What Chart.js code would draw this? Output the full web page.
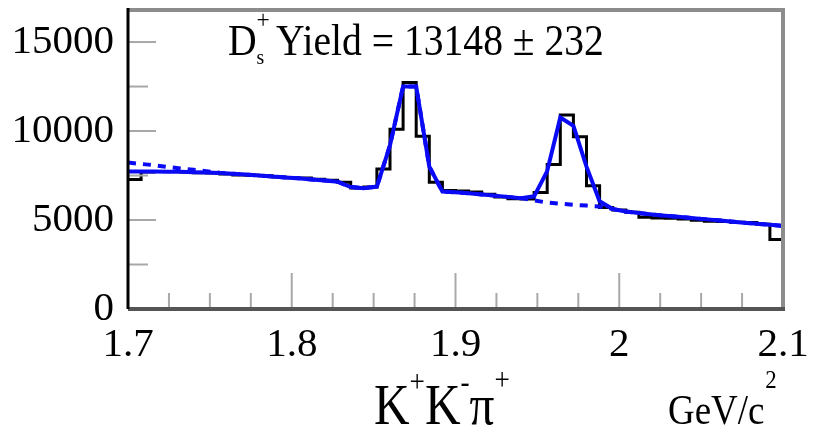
<!DOCTYPE html>
<html>
<head>
<meta charset="utf-8">
<script src="https://cdn.jsdelivr.net/npm/chart.js@4.4.1/dist/chart.umd.min.js"></script>
<style>
  html, body { margin: 0; padding: 0; background: #fff; }
  canvas { display: block; }
</style>
</head>
<body>
<canvas id="massChart" width="813" height="434"></canvas>
<script>
// ----------------------------
// K+K-pi+ invariant mass, Ds yield fit
// ----------------------------

// binning (GeV/c^2)
const massLow = 1.7;
const massHigh = 2.1;
const binWidth = 0.008;

// entries per bin (50 bins)
const counts = [
  7280, 7700, 7730, 7720, 7700, 7650, 7640, 7590, 7530, 7520,
  7480, 7420, 7370, 7360, 7290, 7240, 7120, 6800, 6850, 7860,
  10100, 12720, 9700, 7120, 6660, 6630, 6570, 6450, 6300, 6200,
  6180, 6550, 8120, 10900, 9680, 6930, 5700, 5560, 5430, 5160,
  5120, 5100, 5050, 4990, 4930, 4910, 4870, 4860, 4760, 3900
];

// total fit, evaluated at the bin edges (51 values)
const fitCurve = [
  7730, 7730, 7725, 7715, 7705, 7690, 7670, 7640, 7600, 7555,
  7505, 7450, 7395, 7340, 7280, 7220, 7150, 6850, 6790, 6880,
  9200, 12500, 12500, 8000, 6600, 6560, 6500, 6440, 6370, 6300,
  6230, 6330, 7750, 10760, 10300, 8000, 6050, 5620, 5480, 5390,
  5310, 5240, 5180, 5110, 5050, 4990, 4920, 4850, 4790, 4730,
  4670
];

// background (with the D+ peak), at the bin edges (51 values)
const bkgCurve = [
  8230, 8150, 8080, 7980, 7900, 7820, 7740, 7650, 7600, 7555,
  7505, 7450, 7395, 7340, 7280, 7220, 7150, 6850, 6790, 6880,
  9200, 12500, 12500, 8000, 6600, 6560, 6500, 6440, 6370, 6300,
  6230, 6100, 5980, 5920, 5860, 5810, 5760, 5620, 5480, 5390,
  5310, 5240, 5180, 5110, 5050, 4990, 4920, 4850, 4790, 4730,
  4670
];

// axes
const xTicks = [1.7, 1.8, 1.9, 2.0, 2.1];
const xTickLabels = ["1.7", "1.8", "1.9", "2", "2.1"];
const yTicks = [0, 5000, 10000, 15000];
const yTickLabels = ["0", "5000", "10000", "15000"];
const yMax = 16800;

const titleText = "Yield = 13148 \u00b1 232";

// ----------------------------
// build points
// ----------------------------
const edge = i => massLow + i * binWidth;

const histPoints = counts.map((c, i) => ({ x: edge(i), y: c }));
histPoints.push({ x: massHigh, y: counts[counts.length - 1] });

const fitPoints = fitCurve.map((v, i) => ({ x: edge(i), y: v }));
const bkgPoints = bkgCurve.map((v, i) => ({ x: edge(i), y: v }));

// ----------------------------
// frame, inner ticks and labels
// ----------------------------
const framePlugin = {
  id: "frame",
  afterDatasetsDraw(chart) {
    const { ctx, chartArea: a, scales } = chart;
    const xs = scales.x, ys = scales.y;
    ctx.save();
    ctx.strokeStyle = "#a8a8a8";
    ctx.lineWidth = 2;
    // x ticks every 0.025
    for (let k = 0; k <= 16; k++) {
      const px = xs.getPixelForValue(massLow + k * 0.025);
      const len = k % 4 === 0 ? 36 : 16;
      ctx.beginPath();
      ctx.moveTo(px, a.bottom);
      ctx.lineTo(px, a.bottom - len);
      ctx.stroke();
    }
    // y ticks every 2500
    for (let v = 0; v <= yMax; v += 2500) {
      const py = ys.getPixelForValue(v);
      const len = v % 5000 === 0 ? 28 : 20;
      ctx.beginPath();
      ctx.moveTo(a.left, py);
      ctx.lineTo(a.left + len, py);
      ctx.stroke();
    }
    // box
    ctx.strokeStyle = "#8c8c8c";
    ctx.lineWidth = 4;
    ctx.beginPath();
    ctx.moveTo(a.left, a.top);
    ctx.lineTo(a.right, a.top);
    ctx.lineTo(a.right, a.bottom);
    ctx.stroke();
    ctx.strokeStyle = "#555";
    ctx.beginPath();
    ctx.moveTo(a.left, a.bottom);
    ctx.lineTo(a.right + 2, a.bottom);
    ctx.stroke();
    ctx.strokeStyle = "#000";
    ctx.lineWidth = 3;
    ctx.beginPath();
    ctx.moveTo(a.left, a.top - 2);
    ctx.lineTo(a.left, a.bottom);
    ctx.stroke();
    ctx.restore();
  },
  afterDraw(chart) {
    const { ctx } = chart;
    const serif = "'Liberation Serif', 'Times New Roman', serif";
    // draws a run of text pieces, squeezed a little sideways
    const run = (x0, pieces, squeeze) => {
      ctx.save();
      ctx.fillStyle = "#000";
      ctx.textBaseline = "alphabetic";
      ctx.textAlign = "left";
      ctx.translate(x0, 0);
      ctx.scale(squeeze, 1);
      let x = 0;
      pieces.forEach(p => {
        ctx.font = p.size + "px " + serif;
        ctx.fillText(p.t, x + (p.dx || 0), p.y);
        if (!p.keep) x += ctx.measureText(p.t).width + (p.dx || 0);
      });
      ctx.restore();
    };
    // D_s^+ Yield = ...
    run(228, [
      { t: "D", size: 44, y: 55 },
      { t: "+", size: 26, y: 28, keep: true },
      { t: "s", size: 22, y: 64 },
      { t: " " + titleText, size: 44, y: 55, dx: 2 }
    ], 0.9);
    // K+K-pi+
    run(374, [
      { t: "K", size: 58, y: 424 },
      { t: "+", size: 32, y: 392 },
      { t: "K", size: 58, y: 424 },
      { t: "-", size: 32, y: 392 },
      { t: "\u03c0", size: 58, y: 424 },
      { t: "+", size: 32, y: 390 }
    ], 0.85);
    // GeV/c^2
    run(668, [
      { t: "GeV/c", size: 42, y: 424 },
      { t: "2", size: 26, y: 388, dx: 1 }
    ], 0.88);
  }
};

// ----------------------------
// chart
// ----------------------------
const tickFont = { family: "'Liberation Serif', serif", size: 41 };

new Chart(document.getElementById("massChart").getContext("2d"), {
  type: "line",
  data: {
    datasets: [
      {
        label: "fit",
        data: fitPoints,
        borderColor: "#0a0af5",
        borderWidth: 4,
        pointRadius: 0,
        tension: 0,
        order: 1
      },
      {
        label: "background",
        data: bkgPoints,
        borderColor: "#0a0af5",
        borderWidth: 4,
        borderDash: [8, 7],
        pointRadius: 0,
        tension: 0,
        order: 2
      },
      {
        label: "data",
        data: histPoints,
        borderColor: "#000",
        borderWidth: 3,
        pointRadius: 0,
        stepped: "before",
        order: 3
      }
    ]
  },
  options: {
    responsive: false,
    animation: false,
    layout: { padding: { top: 10, right: 30, left: 0, bottom: 0 } },
    plugins: { legend: { display: false }, tooltip: { enabled: false } },
    scales: {
      x: {
        type: "linear",
        min: massLow,
        max: massHigh,
        afterFit: s => {
          s.height = 125;
          s.paddingLeft = 0;
          s.paddingRight = 0;
        },
        afterBuildTicks: s => { s.ticks = xTicks.map(v => ({ value: v })); },
        grid: { display: false, drawTicks: false },
        border: { display: false },
        ticks: {
          padding: 12,
          color: "#000",
          font: tickFont,
          maxRotation: 0,
          autoSkip: false,
          callback: (v, i) => xTickLabels[i]
        }
      },
      y: {
        min: 0,
        max: yMax,
        afterFit: s => {
          s.width = 128;
          s.paddingTop = 0;
          s.paddingBottom = 0;
        },
        afterBuildTicks: s => { s.ticks = yTicks.map(v => ({ value: v })); },
        grid: { display: false, drawTicks: false },
        border: { display: false },
        ticks: {
          padding: 14,
          color: "#000",
          font: tickFont,
          callback: (v, i) => yTickLabels[i]
        }
      }
    }
  },
  plugins: [framePlugin]
});
</script>
</body>
</html>
